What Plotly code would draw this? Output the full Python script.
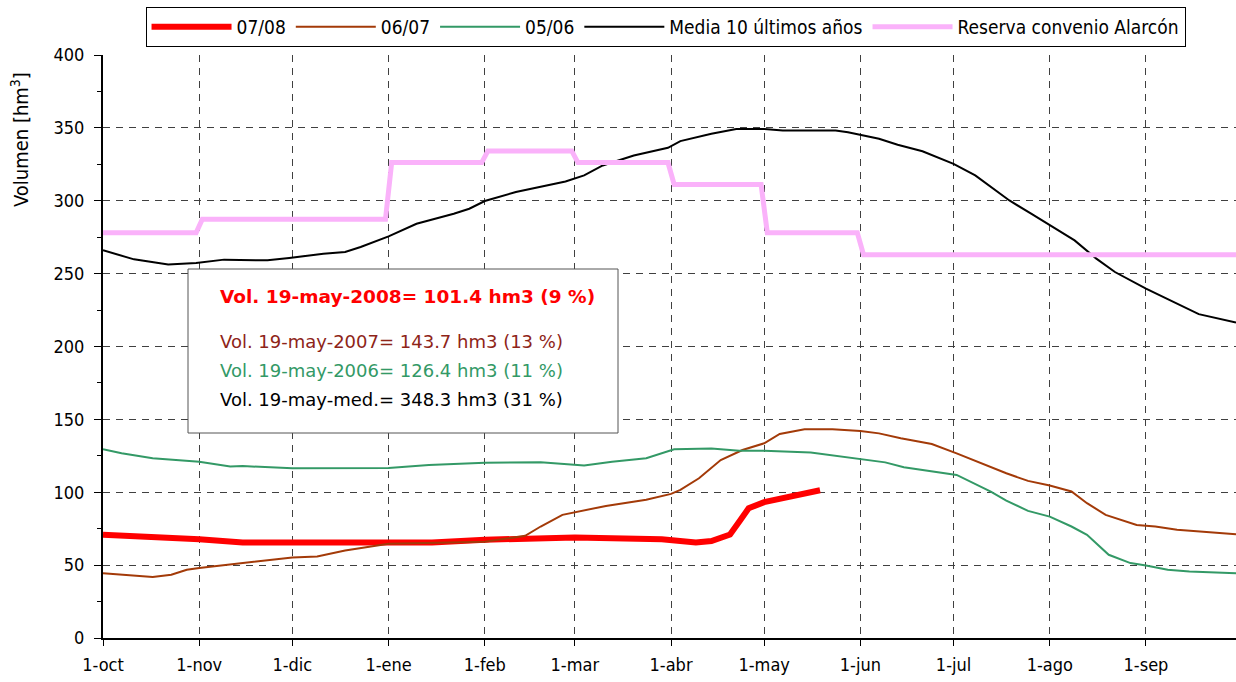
import plotly.graph_objects as go

# hydrological year oct-2007 .. sep-2008, volumes in hm3
media_dates = ["2007-10-01", "2007-10-11", "2007-10-22", "2007-10-31", "2007-11-09", "2007-11-23",
               "2007-11-30", "2007-12-11", "2007-12-18", "2007-12-23", "2008-01-01", "2008-01-10",
               "2008-01-22", "2008-01-27", "2008-02-01", "2008-02-11", "2008-02-27", "2008-03-04",
               "2008-03-10", "2008-03-20", "2008-03-31", "2008-04-04", "2008-04-14", "2008-04-22",
               "2008-05-01", "2008-05-07", "2008-05-24", "2008-05-28", "2008-06-07", "2008-06-13",
               "2008-06-21", "2008-07-01", "2008-07-08", "2008-07-19", "2008-07-26", "2008-08-01",
               "2008-08-09", "2008-08-16", "2008-08-22", "2008-09-01", "2008-09-09", "2008-09-18",
               "2008-09-30"]
media_vals = [266.0, 259.8, 256.3, 257.3, 259.6, 259.1, 260.7, 263.7, 264.8, 268.3, 275.6, 284.2,
              291.1, 294.5, 299.8, 306.0, 313.2, 317.4, 324.2, 331.0, 336.3, 340.9, 345.9, 349.3,
              349.3, 348.2, 348.2, 347.0, 342.5, 338.4, 334.0, 325.3, 317.4, 300.2, 291.1, 283.1,
              272.8, 260.3, 251.1, 239.7, 231.7, 222.2, 216.4]

reserva_dates = ["2007-10-01", "2007-10-31", "2007-11-02", "2007-12-31", "2008-01-02", "2008-01-31",
                 "2008-02-02", "2008-02-29", "2008-03-02", "2008-03-31", "2008-04-02", "2008-04-30",
                 "2008-05-02", "2008-05-31", "2008-06-02", "2008-09-30"]
reserva_vals = [278.0, 278.0, 287.3, 287.3, 326.2, 326.2, 334.2, 334.2, 326.2, 326.2, 311.2, 311.2,
                278.1, 278.1, 263.0, 263.0]

y0506_dates = ["2007-10-01", "2007-10-07", "2007-10-17", "2007-10-25", "2007-11-01", "2007-11-11",
               "2007-11-15", "2007-12-01", "2007-12-13", "2008-01-01", "2008-01-14", "2008-02-01",
               "2008-02-19", "2008-03-04", "2008-03-13", "2008-03-24", "2008-04-02", "2008-04-14",
               "2008-04-23", "2008-05-01", "2008-05-16", "2008-05-30", "2008-06-09", "2008-06-15",
               "2008-06-23", "2008-07-02", "2008-07-13", "2008-07-18", "2008-07-25", "2008-08-01",
               "2008-08-08", "2008-08-13", "2008-08-20", "2008-08-27", "2008-09-01", "2008-09-08",
               "2008-09-15", "2008-09-30"]
y0506_vals = [129.5, 126.7, 123.3, 122.1, 121.0, 117.6, 118.0, 116.4, 116.4, 116.7, 118.7, 120.3,
              120.5, 118.3, 121.0, 123.3, 129.5, 130.1, 128.5, 128.5, 127.2, 123.5, 120.5, 117.1,
              114.8, 111.9, 100.5, 94.3, 87.2, 83.3, 76.5, 70.8, 57.1, 51.4, 49.8, 46.8, 45.7, 44.5]

y0607_dates = ["2007-10-01", "2007-10-17", "2007-10-23", "2007-10-28", "2007-11-01", "2007-11-07",
               "2007-11-20", "2007-12-01", "2007-12-09", "2007-12-18", "2008-01-01", "2008-02-01",
               "2008-02-14", "2008-02-19", "2008-02-26", "2008-03-01", "2008-03-11", "2008-03-24",
               "2008-04-01", "2008-04-04", "2008-04-10", "2008-04-17", "2008-04-24", "2008-05-01",
               "2008-05-06", "2008-05-14", "2008-05-23", "2008-06-01", "2008-06-07", "2008-06-14",
               "2008-06-24", "2008-07-02", "2008-07-08", "2008-07-18", "2008-07-25", "2008-08-01",
               "2008-08-08", "2008-08-13", "2008-08-19", "2008-08-29", "2008-09-04", "2008-09-11",
               "2008-09-30"]
y0607_vals = [44.5, 41.8, 43.4, 46.8, 48.0, 49.5, 53.0, 55.3, 55.9, 60.0, 64.6, 66.0,
              70.1, 76.5, 84.5, 86.1, 90.6, 94.8, 98.9, 101.6, 109.6, 122.1, 129.0, 133.6,
              140.0, 143.2, 143.2, 142.0, 140.4, 137.0, 133.1, 126.7, 121.5, 113.0, 107.8, 104.6,
              100.5, 92.5, 84.5, 77.6, 76.5, 74.2, 71.2]

y0708_dates = ["2007-10-01", "2007-10-16", "2007-11-01", "2007-11-15", "2007-12-01", "2007-12-18",
               "2008-01-01", "2008-01-15", "2008-02-01", "2008-03-01", "2008-03-29", "2008-04-09",
               "2008-04-14", "2008-04-19", "2008-04-20", "2008-04-23", "2008-04-26", "2008-05-01",
               "2008-05-11", "2008-05-19"]
y0708_vals = [70.8, 69.6, 67.8, 65.5, 65.5, 64.6, 64.6, 65.5, 67.4, 69.0, 67.8, 65.5,
              66.5, 69.6, 71.0, 80.0, 89.0, 93.2, 98.2, 101.4]

month_ticks = ["2007-10-01", "2007-11-01", "2007-12-01", "2008-01-01", "2008-02-01", "2008-03-01",
               "2008-04-01", "2008-05-01", "2008-06-01", "2008-07-01", "2008-08-01", "2008-09-01"]
month_labels = ["1-oct", "1-nov", "1-dic", "1-ene", "1-feb", "1-mar",
                "1-abr", "1-may", "1-jun", "1-jul", "1-ago", "1-sep"]

info_lines = [
    ("Vol. 19-may-2008= 101.4 hm3 (9 %)", "#ff0000", True),
    ("Vol. 19-may-2007= 143.7 hm3 (13 %)", "#8e2418", False),
    ("Vol. 19-may-2006= 126.4 hm3 (11 %)", "#339966", False),
    ("Vol. 19-may-med.= 348.3 hm3 (31 %)", "#000000", False),
]

AX_FONT = "DejaVu Sans Condensed, Liberation Sans, sans-serif"
BOX_FONT = "DejaVu Sans, Verdana, sans-serif"

# plot area in pixels, used to place the info box
L, R, T, B = 103, 1236, 55, 638


def px(x):
    return (x - L) / (R - L)


def py(y):
    return (B - y) / (B - T)


fig = go.Figure()
fig.add_trace(go.Scatter(x=y0708_dates, y=y0708_vals, mode="lines", name="07/08",
                         line=dict(color="#ff0000", width=6)))
fig.add_trace(go.Scatter(x=y0607_dates, y=y0607_vals, mode="lines", name="06/07",
                         line=dict(color="#a33a08", width=2)))
fig.add_trace(go.Scatter(x=y0506_dates, y=y0506_vals, mode="lines", name="05/06",
                         line=dict(color="#339966", width=2)))
fig.add_trace(go.Scatter(x=media_dates, y=media_vals, mode="lines", name="Media 10 últimos años",
                         line=dict(color="#000000", width=2)))
fig.add_trace(go.Scatter(x=reserva_dates, y=reserva_vals, mode="lines", name="Reserva convenio Alarcón",
                         line=dict(color="#fab2fa", width=5)))

fig.add_shape(type="rect", xref="paper", yref="paper", layer="above",
              x0=px(188), x1=px(618), y0=py(433), y1=py(269),
              line=dict(color="#555555", width=1), fillcolor="white")

line_y = [296, 341, 370, 399]
for (txt, col, bold), yy in zip(info_lines, line_y):
    fig.add_annotation(xref="paper", yref="paper", x=px(218), y=py(yy),
                       xanchor="left", yanchor="middle", showarrow=False,
                       text=f"<b>{txt}</b>" if bold else txt,
                       font=dict(family=BOX_FONT, size=18.5 if bold else 18, color=col))

# y title sits near the top of the axis, as in the original
fig.add_annotation(xref="paper", yref="paper", x=px(20), y=py(140),
                   xanchor="center", yanchor="middle", showarrow=False, textangle=-90,
                   text="Volumen [hm<sup>3</sup>]",
                   font=dict(family=AX_FONT, size=20, color="black"))

fig.update_layout(
    width=1236, height=682,
    margin=dict(l=L, r=1236 - R, t=T, b=682 - B),
    paper_bgcolor="white", plot_bgcolor="white",
    font=dict(family=AX_FONT, size=18, color="black"),
    showlegend=True,
    legend=dict(orientation="h", x=0.4965, xanchor="center", y=py(7), yanchor="top",
                bordercolor="black", borderwidth=1, bgcolor="white",
                font=dict(family=AX_FONT, size=19), itemwidth=80, tracegroupgap=0),
)

fig.update_xaxes(
    type="date", range=["2007-10-01", "2008-09-30"],
    tickvals=month_ticks, ticktext=month_labels,
    ticks="outside", ticklen=6, tickcolor="black", ticklabelstandoff=3,
    showline=True, linecolor="black", linewidth=2,
    showgrid=True, gridcolor="#404040", gridwidth=1, griddash="7px,6px",
    zeroline=False,
)
fig.update_yaxes(
    range=[0, 400], dtick=50, tick0=0,
    ticks="outside", ticklen=7, tickcolor="black", ticklabelstandoff=6,
    minor=dict(dtick=25, ticks="outside", ticklen=4, tickcolor="black", showgrid=False),
    showline=True, linecolor="black", linewidth=2,
    showgrid=True, gridcolor="#404040", gridwidth=1, griddash="7px,6px",
    zeroline=False,
)

fig.write_html("out.html", config={"displayModeBar": False},
               post_script="document.body.style.margin='0';")
